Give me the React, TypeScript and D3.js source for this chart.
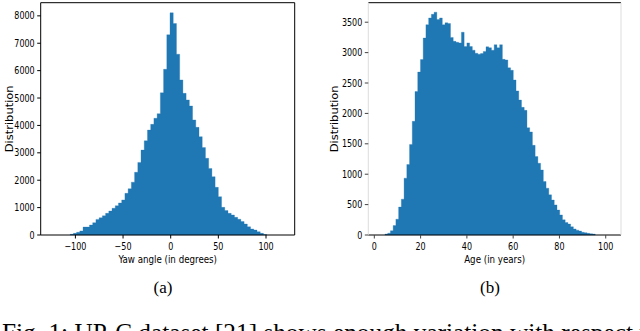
import React from "react";
import * as d3 from "d3";

// yaw histogram (a): counts per bin, bins start at yawStart
const yawStart = -105.5;
const yawBinWidth = 3.38;
const yawCounts = [
  25, 60, 100, 150, 290, 290, 365, 450, 570, 630, 700, 790, 875, 975, 1070,
  1170, 1280, 1520, 1690, 1930, 2290, 2650, 3100, 3440, 3830, 4040, 4260, 4430,
  5190, 6050, 7310, 8110, 7720, 6600, 5660, 5170, 4930, 4710, 4200, 3930, 3590,
  3190, 2800, 2430, 2130, 1740, 1400, 1010, 890, 790, 730, 645, 575, 490, 400,
  300, 220, 180, 120, 60, 20,
];
const yawTicks = [-100, -50, 0, 50, 100];
const yawCountTicks = [0, 1000, 2000, 3000, 4000, 5000, 6000, 7000, 8000];

// age histogram (b)
const ageStart = 4.6;
const ageBinWidth = 1.18;
const ageCounts = [
  15, 30, 70, 155, 260, 460, 590, 935, 1160, 1490, 1870, 2360, 2680, 2885, 3240,
  3460, 3570, 3630, 3665, 3545, 3570, 3460, 3490, 3480, 3250, 3185, 3170, 3160,
  3335, 3100, 3160, 3100, 3040, 2990, 2975, 2985, 3020, 3095, 3080, 3040, 3130,
  3080, 3130, 2890, 2880, 2750, 2710, 2550, 2370, 2220, 2100, 2050, 1765, 1695,
  1475, 1290, 1180, 1070, 880, 770, 660, 575, 495, 410, 330, 250, 205, 180, 135,
  100, 80, 65, 45, 38, 27, 20, 15,
];
const ageTicks = [0, 20, 40, 60, 80, 100];
const ageCountTicks = [0, 500, 1000, 1500, 2000, 2500, 3000, 3500];

const BLUE = "#1f77b4";
const SANS = "DejaVu Sans, sans-serif";
const SERIF = "Liberation Serif, serif";

// matplotlib text in the figure looks horizontally squeezed
const Label = ({ x, y, anchor = "middle", sx = 0.8, size = 10, children }) => (
  <text
    transform={`translate(${x},${y}) scale(${sx},1)`}
    textAnchor={anchor}
    fontFamily={SANS}
    fontSize={size}
    fill="#000"
  >
    {children}
  </text>
);

const Histogram = ({
  counts,
  start,
  binWidth,
  xDomain,
  yMax,
  xTicks,
  yTicks,
  left,
  right,
  xLabel,
  yLabelX,
  light,
}) => {
  const top = 2.7;
  const bottom = 235;
  const x = d3.scaleLinear().domain(xDomain).range([left, right]);
  const y = d3.scaleLinear().domain([0, yMax]).range([bottom, top]);

  // one step outline for all bins, so no seams show between the bars
  const p = d3.path();
  p.moveTo(x(start), y(0));
  counts.forEach((c, i) => {
    p.lineTo(x(start + i * binWidth), y(c));
    p.lineTo(x(start + (i + 1) * binWidth), y(c));
  });
  p.lineTo(x(start + counts.length * binWidth), y(0));
  p.closePath();

  const tickColor = light ? "#444" : "#000";
  const fmt = d3.format("d");
  const minus = (v) => (v < 0 ? "\u2212" + fmt(-v) : fmt(v));

  return (
    <g>
      <path d={p.toString()} fill={BLUE} stroke={BLUE} strokeWidth={0.3} />
      {/* spines */}
      <line x1={left} x2={right} y1={top} y2={top} stroke="#000" strokeWidth={1} />
      <line x1={left} x2={right} y1={bottom} y2={bottom} stroke="#000" strokeWidth={1} />
      <line x1={left} x2={left} y1={top} y2={bottom} stroke={light ? "#ddd" : "#000"} strokeWidth={1} />
      <line x1={right} x2={right} y1={top} y2={bottom} stroke={light ? "#ddd" : "#000"} strokeWidth={1} />

      {xTicks.map((t) => (
        <g key={t}>
          <line x1={x(t)} x2={x(t)} y1={bottom} y2={bottom + 3.5} stroke={tickColor} />
          <Label x={x(t)} y={249.5}>{minus(t)}</Label>
        </g>
      ))}
      {yTicks.map((t) => (
        <g key={t}>
          <line x1={left - 3.5} x2={left} y1={y(t)} y2={y(t)} stroke={tickColor} />
          <Label x={left - 6} y={y(t) + 3.6} anchor="end">
            {fmt(t)}
          </Label>
        </g>
      ))}
      <Label x={(left + right) / 2} y={263} sx={0.87}>
        {xLabel}
      </Label>
      <text
        transform={`translate(${yLabelX},${(top + bottom) / 2}) scale(0.85,1) rotate(-90)`}
        textAnchor="middle"
        fontFamily={SANS}
        fontSize={11.5}
      >
        Distribution
      </text>
    </g>
  );
};

export default function App() {
  return (
    <svg
      width={640}
      height={331}
      style={{ position: "absolute", left: 0, top: 0, background: "#fff" }}
    >
      <rect width={640} height={331} fill="#fff" />
      <Histogram
        counts={yawCounts}
        start={yawStart}
        binWidth={yawBinWidth}
        xDomain={[-136.4, 130.1]}
        yMax={8480}
        xTicks={yawTicks}
        yTicks={yawCountTicks}
        left={40.7}
        right={294.7}
        xLabel="Yaw angle (in degrees)"
        yLabelX={12.5}
        light={false}
      />
      <Histogram
        counts={ageCounts}
        start={ageStart}
        binWidth={ageBinWidth}
        xDomain={[-2.6, 106.6]}
        yMax={3821}
        xTicks={ageTicks}
        yTicks={ageCountTicks}
        left={368.3}
        right={621}
        xLabel="Age (in years)"
        yLabelX={338.3}
        light={true}
      />
      <text x={163} y={293} textAnchor="middle" fontFamily={SERIF} fontSize={17}>
        (a)
      </text>
      <text x={490} y={293} textAnchor="middle" fontFamily={SERIF} fontSize={17}>
        (b)
      </text>
      <text x={2} y={340.5} fontFamily={SERIF} fontSize={25.3}>
        Fig. 1: UP-C dataset [21] shows enough variation with respect to
      </text>
    </svg>
  );
}
